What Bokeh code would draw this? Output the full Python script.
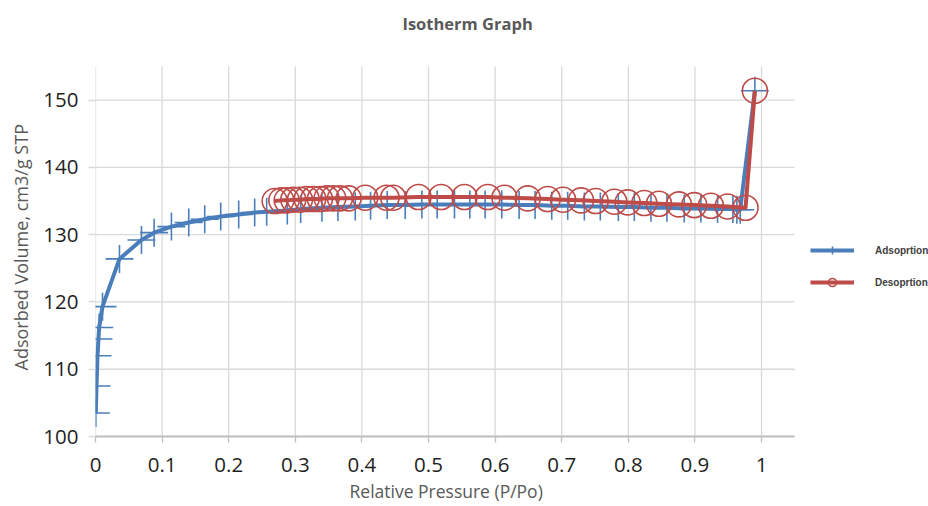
from bokeh.plotting import figure
from bokeh.models import FixedTicker, Legend, LegendItem, Label, Title
from bokeh.embed import file_html
from bokeh.resources import INLINE

# Adsorption branch (relative pressure, adsorbed volume)
ads_x = [0.0005, 0.0015, 0.003, 0.0045, 0.0055, 0.0105, 0.036, 0.069, 0.088, 0.114,
         0.140, 0.164, 0.188, 0.215, 0.239, 0.257, 0.288, 0.308, 0.340, 0.364,
         0.390, 0.413, 0.438, 0.465, 0.490, 0.513, 0.539, 0.562, 0.585, 0.610,
         0.636, 0.660, 0.685, 0.709, 0.734, 0.758, 0.785, 0.809, 0.834, 0.858,
         0.884, 0.909, 0.934, 0.957, 0.963, 0.968, 0.990]
ads_y = [103.5, 107.5, 112.0, 114.5, 116.2, 119.3, 126.4, 129.2, 130.3, 131.2,
         131.8, 132.3, 132.7, 133.0, 133.3, 133.4, 133.6, 133.8, 134.0, 134.1,
         134.2, 134.3, 134.4, 134.4, 134.5, 134.5, 134.5, 134.5, 134.5, 134.5,
         134.4, 134.4, 134.3, 134.3, 134.2, 134.2, 134.1, 134.1, 134.0, 134.0,
         133.9, 133.9, 133.8, 133.8, 133.7, 133.7, 151.4]

# Desorption branch
des_x = [0.269, 0.279, 0.287, 0.297, 0.307, 0.317, 0.327, 0.337, 0.347, 0.357,
         0.367, 0.380, 0.405, 0.437, 0.447, 0.485, 0.519, 0.554, 0.589, 0.614,
         0.649, 0.679, 0.702, 0.729, 0.751, 0.779, 0.799, 0.824, 0.846, 0.876,
         0.899, 0.924, 0.949, 0.976, 0.990]
des_y = [135.0, 135.1, 135.1, 135.2, 135.2, 135.3, 135.3, 135.3, 135.4, 135.4,
         135.4, 135.4, 135.5, 135.5, 135.5, 135.6, 135.6, 135.6, 135.6, 135.5,
         135.4, 135.3, 135.2, 135.1, 135.0, 134.9, 134.8, 134.7, 134.6, 134.5,
         134.4, 134.3, 134.2, 134.0, 151.4]

x_ticks = [0.0, 0.1, 0.2, 0.3, 0.4, 0.5, 0.6, 0.7, 0.8, 0.9, 1.0]
x_tick_labels = ["0", "0.1", "0.2", "0.3", "0.4", "0.5", "0.6", "0.7", "0.8", "0.9", "1"]
y_ticks = [100, 110, 120, 130, 140, 150]

X_MIN, X_MAX = 0.0, 1.05      # plotting area of the chart
Y_MIN, Y_MAX = 100.0, 155.0

W, H = 928, 506
LEFT, RIGHT, TOP, BOTTOM = 93, 794, 66, 436  # chart area in pixels
px_per_x = (RIGHT - LEFT) / (X_MAX - X_MIN)
px_per_y = (BOTTOM - TOP) / (Y_MAX - Y_MIN)
# the frame extends to the canvas top/right so the title and legend live inside it
x_end = X_MIN + (W - LEFT) / px_per_x
y_end = Y_MIN + BOTTOM / px_per_y

BLUE = "#4a7ebb"
RED = "#be4b48"
GRID = "#d9d9d9"
LABEL_GREY = "#595959"

p = figure(width=W, height=H, x_range=(X_MIN, x_end), y_range=(Y_MIN, y_end),
           output_backend="svg", toolbar_location=None,
           min_border_left=LEFT, min_border_right=0, min_border_top=0,
           min_border_bottom=H - BOTTOM)
p.outline_line_color = None
p.background_fill_color = "white"
p.xgrid.visible = False
p.ygrid.visible = False

# grid lines limited to the chart area
p.segment(x0=x_ticks, y0=[Y_MIN] * len(x_ticks), x1=x_ticks, y1=[Y_MAX] * len(x_ticks),
          line_color=GRID, line_width=1.3)
p.segment(x0=[X_MIN] * len(y_ticks), y0=y_ticks, x1=[X_MAX] * len(y_ticks), y1=y_ticks,
          line_color=GRID, line_width=1.3)

p.xaxis.ticker = FixedTicker(ticks=x_ticks)
p.xaxis.major_label_overrides = {t: l for t, l in zip(x_ticks, x_tick_labels)}
p.xaxis.bounds = (X_MIN, X_MAX)
p.yaxis.ticker = FixedTicker(ticks=y_ticks)
p.yaxis.bounds = (Y_MIN, Y_MAX)

for ax in (p.xaxis, p.yaxis):
    ax.minor_tick_line_color = None
    ax.major_tick_in = 0
    ax.major_label_text_font = "Open Sans"
    ax.major_label_text_font_size = "20.5px"
    ax.major_label_text_color = "#1f1f1f"

p.xaxis.axis_line_color = "#bfbfbf"
p.xaxis.axis_line_width = 2
p.xaxis.major_tick_out = 6
p.xaxis.major_tick_line_color = "#bfbfbf"
p.xaxis.major_tick_line_width = 1.3
p.xaxis.major_label_standoff = 15

p.yaxis.axis_line_color = None
p.yaxis.major_tick_out = 7
p.yaxis.major_tick_line_color = GRID
p.yaxis.major_tick_line_width = 1.3
p.yaxis.major_label_standoff = 10

# axis titles, centred on the chart area rather than on the whole frame
xlabel = Title(text="Relative Pressure (P/Po)", align="left", offset=254,
               vertical_align="bottom", standoff=5,
               text_font="Open Sans", text_font_size="17.5px", text_font_style="normal",
               text_color=LABEL_GREY)
p.add_layout(xlabel, "below")
ylabel = Title(text="Adsorbed Volume, cm3/g STP", align="left", offset=66,
               vertical_align="middle", standoff=14,
               text_font="Open Sans", text_font_size="18px", text_font_style="normal",
               text_color=LABEL_GREY)
p.add_layout(ylabel, "left")

l1 = p.line(ads_x, ads_y, line_color=BLUE, line_width=4, line_join="round")
s1 = p.scatter(ads_x, ads_y, marker="cross", size=28, line_color=BLUE, line_width=1.6)
l2 = p.line(des_x, des_y, line_color=RED, line_width=4, line_join="round")
s2 = p.scatter(des_x, des_y, marker="circle", size=25, fill_color=None,
               line_color=RED, line_width=1.6)

# chart title centred over the whole picture
title = Label(x=X_MIN + (W / 2 + 2 - LEFT) / px_per_x, y=Y_MIN + (BOTTOM - 23) / px_per_y,
              text="Isotherm Graph", text_align="center", text_baseline="middle",
              text_font="Open Sans", text_font_size="16.5px", text_font_style="bold",
              text_color=LABEL_GREY)
p.add_layout(title)

legend = Legend(items=[LegendItem(label="Adsoprtion", renderers=[l1, s1]),
                       LegendItem(label="Desoprtion", renderers=[l2, s2])],
                location=(808 - LEFT, 144))
legend.border_line_color = None
legend.background_fill_alpha = 0
legend.glyph_width = 44
legend.glyph_height = 20
legend.label_standoff = 21
legend.spacing = 12
legend.padding = 8
legend.margin = 0
legend.label_text_font = "Liberation Sans"
legend.label_text_font_style = "bold"
legend.label_text_font_size = "10px"
legend.label_text_color = "#404040"
p.add_layout(legend)

open("out.html", "w").write(file_html(p, INLINE))
